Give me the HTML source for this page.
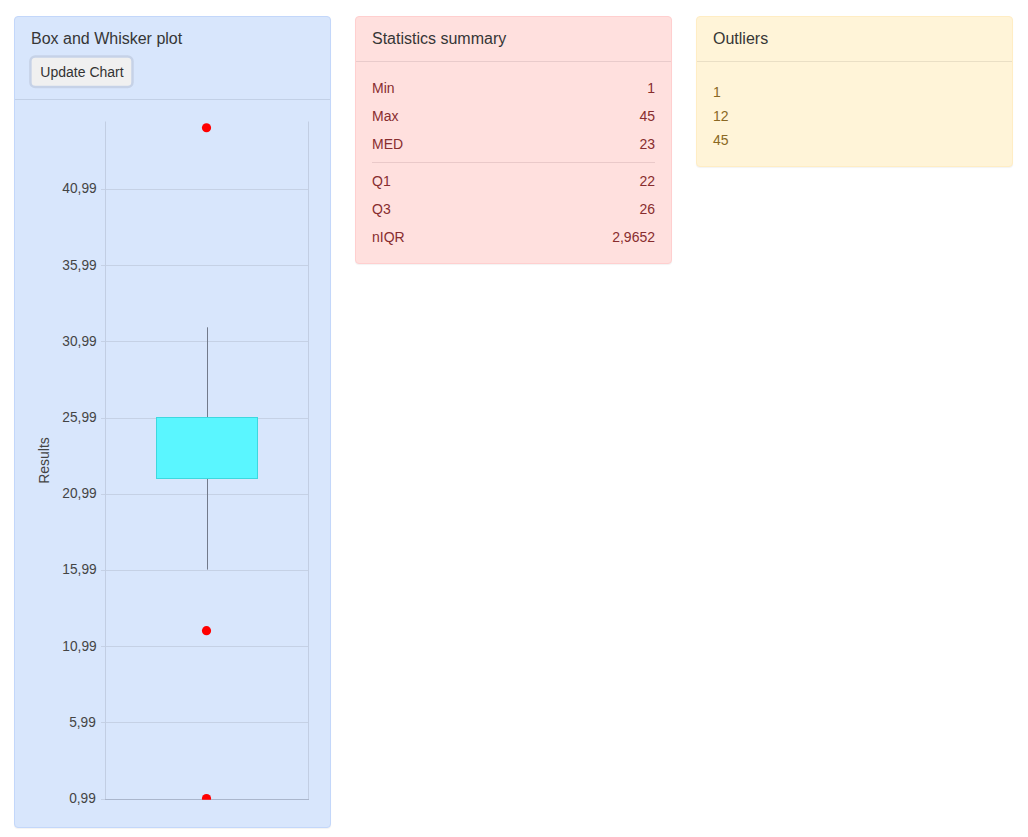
<!DOCTYPE html>
<html>
<head>
<meta charset="utf-8">
<title>Box and Whisker plot</title>
<style>
  html, body { margin: 0; padding: 0; background: #ffffff; }
  body {
    width: 1028px; height: 837px; position: relative; overflow: hidden;
    font-family: "Liberation Sans", sans-serif; font-size: 14px; line-height: 20px; color: #333;
  }
  .panel {
    position: absolute; box-sizing: border-box; border: 1px solid; border-radius: 4px;
    box-shadow: 0 1px 1px rgba(0,0,0,.05);
  }
  .p1 { left: 14px; top: 16px; width: 317px; height: 812px; background: #d8e6fc; border-color: #c3d7fa; }
  .p2 { left: 355px; top: 16px; width: 317px; height: 248px; background: #ffe0de; border-color: #ffcfcf; color: #882d2e; }
  .p3 { left: 696px; top: 16px; width: 317px; height: 151px; background: #fff4d8; border-color: #ffedc4; color: #8a6823; }
  .title {
    position: absolute; left: 16px; top: 10px; margin: 0; font-size: 16px; line-height: 24px;
    font-weight: normal; color: #363636; white-space: nowrap;
  }
  .hline { position: absolute; left: 0; right: 0; height: 1px; }
  .p1 .hline { top: 82px; background: #c2d0e6; }
  .p2 .hline { top: 44px; background: #e9cbcb; }
  .p3 .hline { top: 44px; background: #eadfc5; }
  .btn {
    position: absolute; left: 15px; top: 38px; width: 104px; height: 33px; box-sizing: border-box;
    border: 0; background: transparent; color: #333;
    font-family: "Liberation Sans", sans-serif; font-size: 14px; line-height: 35px; text-align: center;
    padding: 0; margin: 0; z-index: 2;
  }
  .row { position: absolute; left: 16px; right: 16px; height: 20px; line-height: 20px; white-space: nowrap; }
  .row span { position: absolute; right: 0; top: 0; }
  .hr { position: absolute; left: 16px; right: 16px; height: 1px; top: 145px; background: #eac9c9; }
  svg { position: absolute; left: 0; top: 0; }
  svg text { font-family: "Liberation Sans", sans-serif; font-size: 14px; fill: #444; }
</style>
</head>
<body>

<div class="panel p1">
  <h3 class="title">Box and Whisker plot</h3>
  <div class="btn">Update Chart</div>
  <div class="hline"></div>
</div>

<div class="panel p2">
  <h3 class="title">Statistics summary</h3>
  <div class="hline"></div>
  <div class="row" style="top:61px">Min<span>1</span></div>
  <div class="row" style="top:89px">Max<span>45</span></div>
  <div class="row" style="top:117px">MED<span>23</span></div>
  <div class="hr"></div>
  <div class="row" style="top:154px">Q1<span>22</span></div>
  <div class="row" style="top:182px">Q3<span>26</span></div>
  <div class="row" style="top:210px">nIQR<span>2,9652</span></div>
</div>

<div class="panel p3">
  <h3 class="title">Outliers</h3>
  <div class="hline"></div>
  <div class="row" style="top:65px">1</div>
  <div class="row" style="top:89px">12</div>
  <div class="row" style="top:113px">45</div>
</div>

<svg width="1028" height="837" viewBox="0 0 1028 837">
  <defs>
    <clipPath id="area"><rect x="105" y="121" width="204" height="678.8"/></clipPath>
  </defs>
  <!-- button shape -->
  <rect x="30.4" y="56.5" width="102.1" height="30.55" rx="4.8" ry="4.8" fill="#f0f0f0" stroke="#c6d2e7" stroke-width="2.5"/>
  <!-- gridlines -->
  <g fill="#c5d1e5" shape-rendering="crispEdges">
    <rect x="101" y="189" width="207" height="1"/>
    <rect x="101" y="265" width="207" height="1"/>
    <rect x="101" y="341" width="207" height="1"/>
    <rect x="101" y="418" width="207" height="1"/>
    <rect x="101" y="494" width="207" height="1"/>
    <rect x="101" y="570" width="207" height="1"/>
    <rect x="101" y="646" width="207" height="1"/>
    <rect x="101" y="722" width="207" height="1"/>
    <rect x="101" y="799" width="4" height="1"/>
  </g>
  <g fill="#c2cee3">
    <rect x="105" y="121.5" width="1" height="678.5"/>
    <rect x="308" y="121.5" width="1" height="678.5"/>
  </g>
  <rect x="105" y="799" width="204" height="1" fill="#aab6cc" shape-rendering="crispEdges"/>
  <!-- whisker -->
  <rect x="207" y="327.3" width="1" height="242.3" fill="#727a8b"/>
  <!-- box -->
  <rect x="156.5" y="417.5" width="101" height="61" fill="#5af6ff" stroke="#3dd8df" stroke-width="1"/>
  <!-- outliers -->
  <g clip-path="url(#area)" fill="#ff0000">
    <circle cx="206.5" cy="127.75" r="4.6"/>
    <circle cx="206.5" cy="630.7" r="4.6"/>
    <circle cx="206.5" cy="798.55" r="4.6"/>
  </g>
  <!-- labels -->
  <g text-anchor="end" transform="scale(0.978,1)">
    <text x="98.77" y="193">40,99</text>
    <text x="98.77" y="270">35,99</text>
    <text x="98.77" y="346">30,99</text>
    <text x="98.77" y="422">25,99</text>
    <text x="98.77" y="498">20,99</text>
    <text x="98.77" y="574">15,99</text>
    <text x="98.77" y="651">10,99</text>
    <text x="97.96" y="727">5,99</text>
    <text x="97.96" y="803">0,99</text>
  </g>
  <text transform="translate(49,460.5) rotate(-90)" text-anchor="middle">Results</text>
</svg>

</body>
</html>
